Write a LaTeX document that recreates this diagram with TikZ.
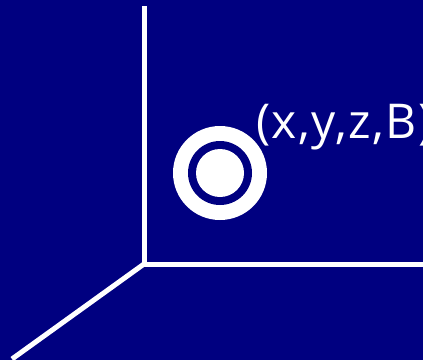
\documentclass[tikz,border=0pt]{standalone}
\usepackage{fontspec}
\setmainfont{Open Sans}[LetterSpace=3]
\definecolor{bg}{RGB}{0,0,128}
\begin{document}
\begin{tikzpicture}[x=1pt,y=-1pt,
  axis/.style={draw=white,line width=5pt},
  lbl/.style={text=white,font=\fontsize{48}{56}\selectfont,inner sep=0pt,anchor=base west}]
\fill[bg] (0,0) rectangle (423,360);
\useasboundingbox (0,0) rectangle (423,360);
\coordinate (o) at (144,264);
\coordinate (top) at (144,6);
\coordinate (right) at (430,264);
\coordinate (left) at (12,359);
\draw[axis] (o) -- (top);
\draw[axis] (o) -- (right);
\draw[axis] (o) -- (left);
\fill[white] (220,173) circle (47);
\fill[bg] (220,173) circle (32);
\fill[white] (220,173) circle (24);
\node[lbl] (t) at (256,138) {(x,y,z,B)};
\end{tikzpicture}
\end{document}
